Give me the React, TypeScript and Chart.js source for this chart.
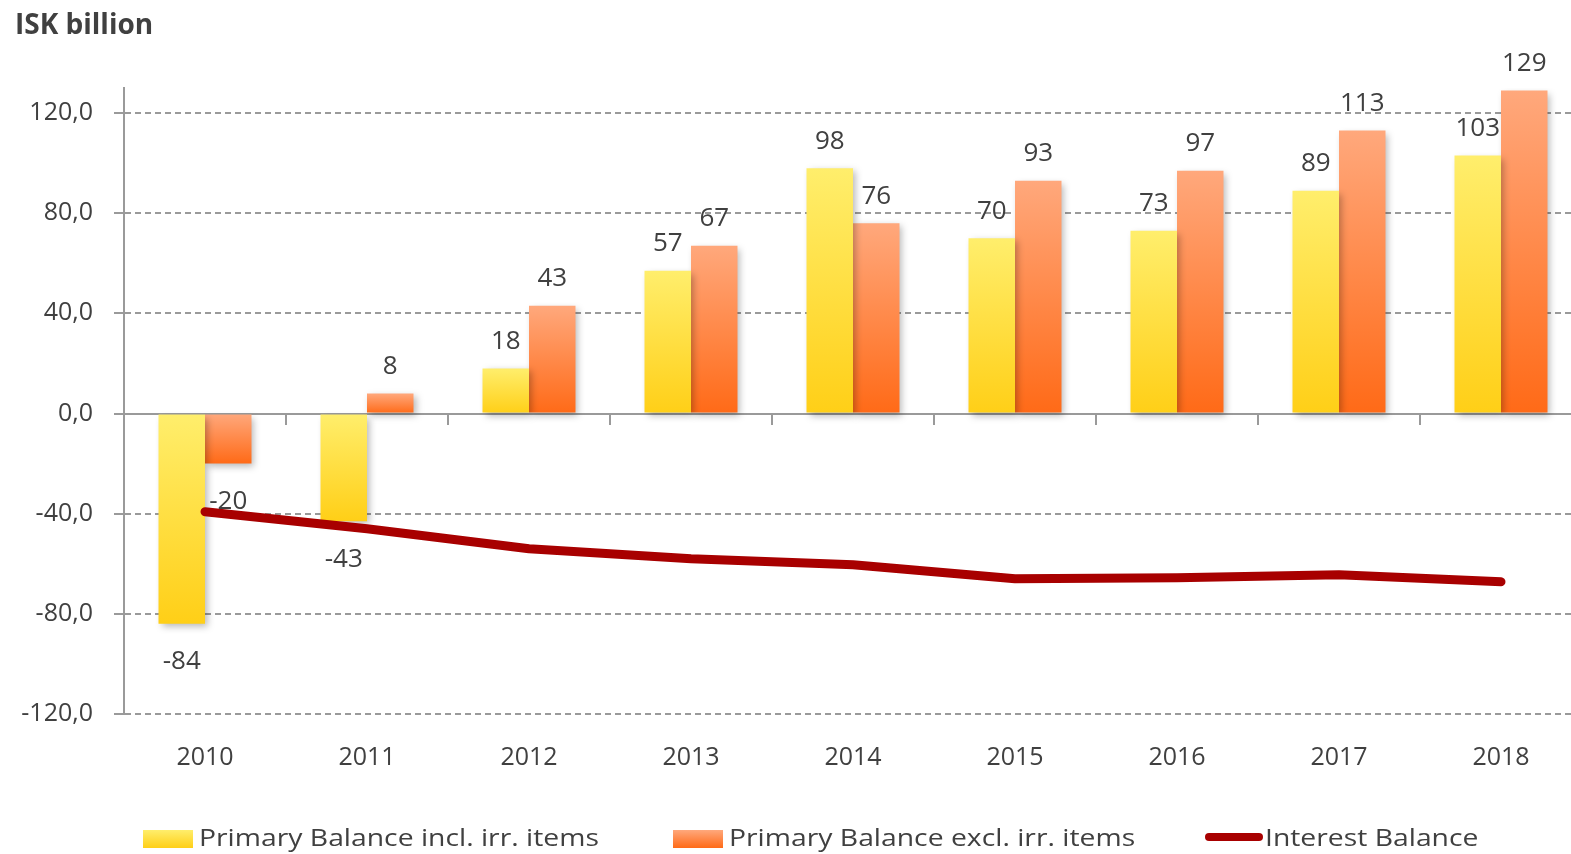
import React, { useEffect, useRef } from "react";
import { Chart, registerables } from "chart.js";

Chart.register(...registerables);

const years = ["2010", "2011", "2012", "2013", "2014", "2015", "2016", "2017", "2018"];
const primaryIncl = [-84, -43, 18, 57, 98, 70, 73, 89, 103];
const primaryExcl = [-20, 8, 43, 67, 76, 93, 97, 113, 129];
const interestBalance = [-39.2, -46, -54, -58, -60.4, -66, -65.6, -64.4, -67.2];
const yTicks = [-120, -80, -40, 0, 40, 80, 120];

const seriesNames = [
  "Primary Balance incl. irr. items",
  "Primary Balance excl. irr. items",
  "Interest Balance",
];

const FONT = "'Open Sans', 'DejaVu Sans', sans-serif";
const TEXT = "#404040";
const GRID = "#9a9a9a";
const YEL_TOP = "#FFEE6C";
const YEL_BOT = "#FFCF17";
const ORA_TOP = "#FFA87C";
const ORA_BOT = "#FF6A17";
const RED = "#A80000";

function barGradient(top: string, bottom: string) {
  return (context: any) => {
    const chart = context.chart;
    if (!chart.chartArea || context.type !== "data" || !chart.scales.y) return bottom;
    const y = chart.scales.y;
    const v = context.raw as number;
    const p1 = y.getPixelForValue(v);
    const p0 = y.getPixelForValue(0);
    const a = Math.min(p0, p1);
    const b = Math.max(p0, p1);
    if (!isFinite(a) || !isFinite(b) || a === b) return bottom;
    const g = chart.ctx.createLinearGradient(0, a, 0, b);
    g.addColorStop(0, top);
    g.addColorStop(1, bottom);
    return g;
  };
}

const shadowPlugin = {
  id: "barShadow",
  beforeDatasetDraw(chart: any, args: any) {
    if (args.meta.type === "bar") {
      const ctx = chart.ctx;
      ctx.save();
      ctx.shadowColor = "rgba(0,0,0,0.28)";
      ctx.shadowBlur = 7;
      ctx.shadowOffsetX = 3;
      ctx.shadowOffsetY = 3;
    }
  },
  afterDatasetDraw(chart: any, args: any) {
    if (args.meta.type === "bar") chart.ctx.restore();
  },
};

const zeroAxisPlugin = {
  id: "zeroAxis",
  beforeDatasetsDraw(chart: any) {
    const ctx = chart.ctx;
    const y = chart.scales.y;
    const y0 = Math.round(y.getPixelForValue(0));
    const { left, right } = chart.chartArea;
    ctx.save();
    ctx.strokeStyle = GRID;
    ctx.lineWidth = 2;
    ctx.setLineDash([]);
    ctx.beginPath();
    ctx.moveTo(left - 10, y0);
    ctx.lineTo(right, y0);
    const step = (right - left) / years.length;
    for (let i = 1; i < years.length; i++) {
      const px = Math.round(left + i * step);
      ctx.moveTo(px, y0);
      ctx.lineTo(px, y0 + 11);
    }
    ctx.stroke();
    ctx.restore();
  },
};

const labelPlugin = {
  id: "valueLabels",
  afterDatasetsDraw(chart: any) {
    const ctx = chart.ctx;
    ctx.save();
    ctx.font = `26px ${FONT}`;
    ctx.fillStyle = TEXT;
    ctx.textAlign = "center";
    ctx.textBaseline = "middle";
    chart.data.datasets.forEach((ds: any, di: number) => {
      const meta = chart.getDatasetMeta(di);
      if (meta.type !== "bar") return;
      meta.data.forEach((el: any, i: number) => {
        const v = ds.data[i] as number;
        const ty = v >= 0 ? el.y - 27 : el.y + 38;
        ctx.fillText(String(v), el.x, ty);
      });
    });
    ctx.restore();
  },
};

const decorPlugin = {
  id: "decor",
  afterDraw(chart: any) {
    const ctx = chart.ctx;
    ctx.save();
    // title
    ctx.font = `bold 28px ${FONT}`;
    ctx.fillStyle = TEXT;
    ctx.textAlign = "left";
    ctx.textBaseline = "middle";
    ctx.fillText("ISK billion", 15, 26);

    // legend
    ctx.font = `24px ${FONT}`;
    const cy = 839;
    const stretch = 1.18;
    const items = [
      { kind: "bar", top: YEL_TOP, bot: YEL_BOT, x: 143, text: seriesNames[0] },
      { kind: "bar", top: ORA_TOP, bot: ORA_BOT, x: 673, text: seriesNames[1] },
      { kind: "line", x: 1205, text: seriesNames[2] },
    ];
    items.forEach((it: any) => {
      let tx: number;
      if (it.kind === "bar") {
        const g = ctx.createLinearGradient(0, cy - 9, 0, cy + 9);
        g.addColorStop(0, it.top);
        g.addColorStop(1, it.bot);
        ctx.fillStyle = g;
        ctx.fillRect(it.x, cy - 9, 50, 18);
        tx = it.x + 56;
      } else {
        ctx.strokeStyle = RED;
        ctx.lineWidth = 8;
        ctx.lineCap = "round";
        ctx.beginPath();
        ctx.moveTo(it.x + 4, cy - 2);
        ctx.lineTo(it.x + 54, cy - 2);
        ctx.stroke();
        tx = it.x + 60;
      }
      ctx.save();
      ctx.translate(tx, cy);
      ctx.scale(stretch, 1);
      ctx.fillStyle = TEXT;
      ctx.textBaseline = "middle";
      ctx.fillText(it.text, 0, 0);
      ctx.restore();
    });
    ctx.restore();
  },
};

export default function App() {
  const ref = useRef<HTMLCanvasElement | null>(null);

  useEffect(() => {
    if (!ref.current) return;
    const chart = new Chart(ref.current, {
      type: "bar",
      data: {
        labels: years,
        datasets: [
          {
            type: "line",
            label: seriesNames[2],
            data: interestBalance,
            borderColor: RED,
            backgroundColor: RED,
            borderWidth: 9,
            borderCapStyle: "round",
            borderJoinStyle: "round",
            pointRadius: 0,
            tension: 0,
            order: 0,
          } as any,
          {
            label: seriesNames[0],
            data: primaryIncl,
            backgroundColor: barGradient(YEL_TOP, YEL_BOT),
            borderWidth: 0,
            categoryPercentage: 0.574,
            barPercentage: 1,
            order: 1,
          },
          {
            label: seriesNames[1],
            data: primaryExcl,
            backgroundColor: barGradient(ORA_TOP, ORA_BOT),
            borderWidth: 0,
            categoryPercentage: 0.574,
            barPercentage: 1,
            order: 1,
          },
        ],
      },
      options: {
        responsive: false,
        animation: false,
        layout: { padding: { top: 88, right: 18, bottom: 0, left: 0 } },
        plugins: {
          legend: { display: false },
          tooltip: { enabled: false },
          title: { display: false },
        },
        scales: {
          x: {
            grid: { display: false, drawTicks: false },
            border: { display: false },
            ticks: {
              color: TEXT,
              font: { family: FONT, size: 25 },
              padding: 29,
              maxRotation: 0,
            },
            afterFit: (s: any) => {
              s.height = 854 - 714;
            },
          },
          y: {
            min: -120,
            max: 130,
            afterBuildTicks: (s: any) => {
              s.ticks = yTicks.map((v) => ({ value: v }));
            },
            afterFit: (s: any) => {
              s.width = 124;
            },
            grid: {
              color: GRID,
              lineWidth: 2,
              tickLength: 10,
              drawTicks: true,
            },
            border: { display: true, color: GRID, width: 2, dash: [6, 4] },
            ticks: {
              color: TEXT,
              font: { family: FONT, size: 25 },
              padding: 21,
              callback: (v: any) => Number(v).toFixed(1).replace(".", ","),
            },
          },
        },
      },
      plugins: [zeroAxisPlugin, shadowPlugin, labelPlugin, decorPlugin],
    });
    return () => chart.destroy();
  }, []);

  return (
    <div
      style={{
        position: "fixed",
        left: 0,
        top: 0,
        width: 1571,
        height: 854,
        overflow: "hidden",
        background: "#fff",
      }}
    >
      <canvas ref={ref} width={1600} height={854} style={{ display: "block" }} />
    </div>
  );
}
